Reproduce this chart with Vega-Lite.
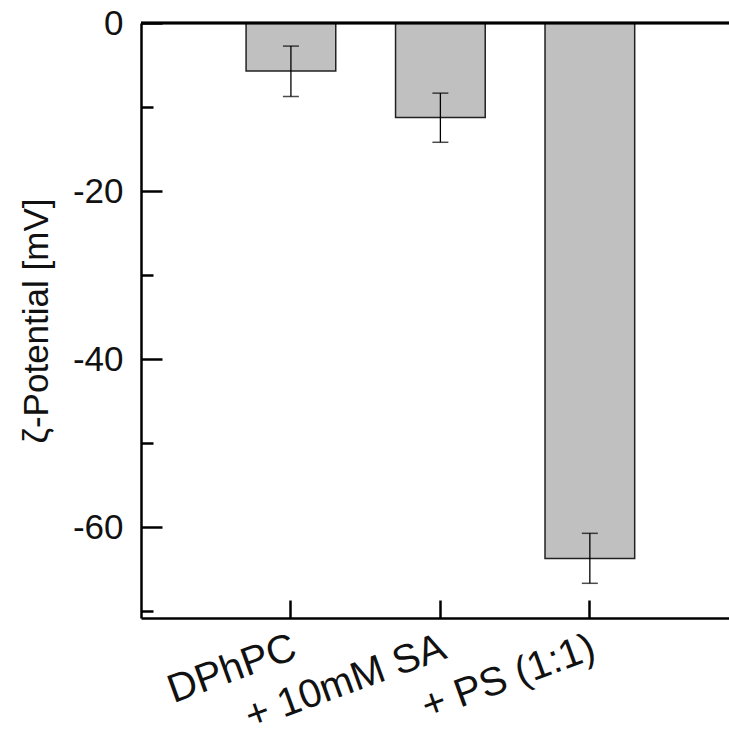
{
  "$schema": "https://vega.github.io/schema/vega-lite/v6.json",
  "width": 588,
  "height": 595,
  "autosize": {"type": "none"},
  "padding": {"left": 141, "top": 23, "right": 0, "bottom": 118},
  "background": "white",
  "config": {"view": {"stroke": null}, "font": "Liberation Sans"},
  "data": {"values": [
    {"sample": "DPhPC", "zeta": -5.7, "lo": -8.75, "hi": -2.75},
    {"sample": "+ 10mM SA", "zeta": -11.25, "lo": -14.2, "hi": -8.35},
    {"sample": "+ PS (1:1)", "zeta": -63.75, "lo": -66.7, "hi": -60.75}
  ]},
  "encoding": {
    "x": {
      "field": "sample", "type": "nominal", "sort": null,
      "scale": {"paddingInner": 0.4, "paddingOuter": 0.667, "align": 0.527},
      "axis": {
        "title": null, "orient": "bottom",
        "domainColor": "black", "domainWidth": 2.5,
        "tickColor": "black", "tickWidth": 2.5, "tickSize": -18,
        "labelAngle": -20, "labelAlign": "right", "labelBaseline": "top",
        "labelFont": "Liberation Sans", "labelFontSize": 40, "labelColor": "#111",
        "labelPadding": 27, "labelOffset": -3, "labelLimit": 0, "labelOverlap": false
      }
    }
  },
  "layer": [
    {
      "mark": {"type": "bar", "fill": "#c0c0c0", "stroke": "#222", "strokeWidth": 1.5},
      "encoding": {
        "y": {
          "field": "zeta", "type": "quantitative",
          "scale": {"domain": [-70.83, 0], "nice": false, "zero": false},
          "axis": {
            "title": "ζ-Potential [mV]",
            "titleFont": "Liberation Sans", "titleFontSize": 35, "titleFontWeight": "normal", "titleColor": "#111",
            "titlePadding": 18,
            "values": [0, -10, -20, -30, -40, -50, -60, -70],
            "labelExpr": "datum.value % 20 === 0 ? toString(datum.value) : ''",
            "domainColor": "black", "domainWidth": 2.5,
            "tickColor": "black", "tickWidth": 2.5,
            "tickSize": {"condition": {"test": "datum.value % 20 === 0", "value": -21}, "value": -12},
            "labelFont": "Liberation Sans", "labelFontSize": 35, "labelColor": "#111",
            "labelPadding": 39, "grid": false
          }
        }
      }
    },
    {
      "mark": {"type": "rule", "color": "black", "strokeWidth": 1.3},
      "encoding": {
        "y": {"field": "lo", "type": "quantitative"},
        "y2": {"field": "hi"}
      }
    },
    {
      "mark": {"type": "tick", "color": "black", "size": 16, "thickness": 1.5},
      "encoding": {"y": {"field": "lo", "type": "quantitative"}}
    },
    {
      "mark": {"type": "tick", "color": "black", "size": 16, "thickness": 1.5},
      "encoding": {"y": {"field": "hi", "type": "quantitative"}}
    },
    {
      "mark": {"type": "rule", "color": "black", "strokeWidth": 2.5},
      "encoding": {"y": {"datum": 0}, "x": null}
    }
  ]
}
